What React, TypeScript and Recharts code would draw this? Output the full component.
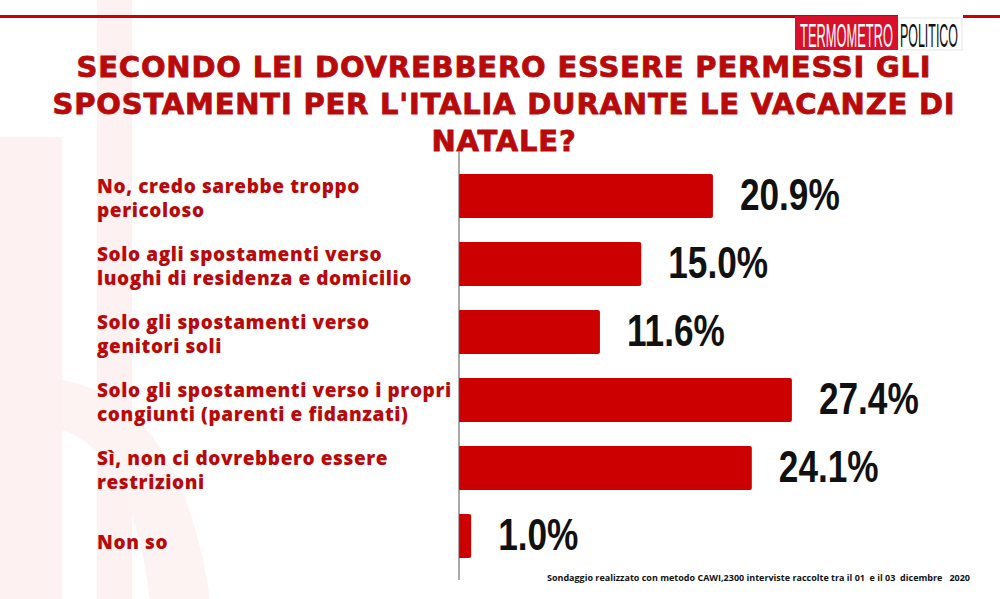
import React from "react";
import { BarChart, Bar, XAxis, YAxis, LabelList } from "recharts";

const categories = [
  "No, credo sarebbe troppo\npericoloso",
  "Solo agli spostamenti verso\nluoghi di residenza e domicilio",
  "Solo gli spostamenti verso\ngenitori soli",
  "Solo gli spostamenti verso i propri\ncongiunti (parenti e fidanzati)",
  "Sì, non ci dovrebbero essere\nrestrizioni",
  "Non so",
];
const values = [20.9, 15.0, 11.6, 27.4, 24.1, 1.0];
const titleLines = [
  "SECONDO LEI DOVREBBERO ESSERE PERMESSI GLI",
  "SPOSTAMENTI PER L'ITALIA DURANTE LE VACANZE DI",
  "NATALE?",
];
const footer =
  "Sondaggio realizzato con metodo CAWI,2300 interviste raccolte tra il 01  e il 03  dicembre   2020";

const data = categories.map((c, i) => ({ name: c, value: values[i] }));

const RED = "#cc0000";
const TEXT_RED = "#b80a0a";
const LABEL_FONT = "'Open Sans', sans-serif";
const TITLE_FONT = "'DejaVu Sans', sans-serif";
const VALUE_FONT = "'Liberation Sans', Arial, sans-serif";

const CategoryTick = (props: any) => {
  const { y, payload } = props;
  const lines = String(payload.value).split("\n");
  const base = lines.length === 1 ? [13] : [-3, 20.5];
  return (
    <g>
      {lines.map((l, i) => (
        <text
          key={i}
          x={97}
          y={y + base[i]}
          textAnchor="start"
          fill={TEXT_RED}
          fontFamily={LABEL_FONT}
          fontWeight={800}
          fontSize={19}
          letterSpacing={0.6}
        >
          {l}
        </text>
      ))}
    </g>
  );
};

const ValueLabel = (props: any) => {
  const { x, y, width, height, value } = props;
  const tx = x + width + 27;
  const ty = y + height / 2 + 14;
  return (
    <text
      transform={`translate(${tx},${ty}) scale(0.8,1)`}
      x={0}
      y={0}
      fill="#111"
      stroke="#ffffff"
      strokeWidth={3}
      paintOrder="stroke"
      fontFamily={VALUE_FONT}
      fontWeight={700}
      fontSize={44}
      textAnchor="start"
    >
      {`${Number(value).toFixed(1)}%`}
    </text>
  );
};

export default function App() {
  return (
    <div
      style={{
        position: "absolute",
        left: 0,
        top: 0,
        width: 1000,
        height: 599,
        background: "#fff",
        overflow: "hidden",
      }}
    >
      <svg width={1000} height={599} style={{ position: "absolute", left: 0, top: 0 }}>
        <rect x={97} y={0} width={35} height={599} fill="#fdf1f1" />
        <rect x={0} y={137} width={62} height={462} fill="#fdf1f1" />
        <path d="M62 380 Q180 400 210 599 L150 599 Q130 450 62 430 Z" fill="#fdf3f3" />
        <rect x={0} y={15} width={898} height={3} fill={RED} />
        <rect x={963} y={15} width={37} height={3} fill={RED} />
        <rect x={898} y={18} width={64} height={32} fill="#fff" stroke="#e6e6e6" strokeWidth={1} />
        <rect x={795} y={16} width={103} height={34} fill="#d8102a" />
        <text
          transform="translate(846.5,47) scale(0.39,1)"
          x={0}
          y={0}
          textAnchor="middle"
          fill="#fff"
          fontFamily={VALUE_FONT}
          fontSize={33}
        >
          TERMOMETRO
        </text>
        <text
          transform="translate(929,47) scale(0.377,1)"
          x={0}
          y={0}
          textAnchor="middle"
          fill="#111"
          fontFamily={VALUE_FONT}
          fontSize={33}
        >
          POLITICO
        </text>
        {titleLines.map((t, i) => (
          <text
            key={i}
            x={504}
            y={77 + i * 37}
            textAnchor="middle"
            fill={TEXT_RED}
            stroke={TEXT_RED}
            strokeWidth={0.8}
            fontFamily={TITLE_FONT}
            fontWeight={700}
            fontSize={29}
            letterSpacing={0.8}
          >
            {t}
          </text>
        ))}
        <text
          x={970}
          y={581}
          textAnchor="end"
          fill="#111"
          fontFamily={LABEL_FONT}
          fontWeight={700}
          fontSize={9}
          style={{ whiteSpace: "pre" }}
        >
          {footer}
        </text>
      </svg>
      <div style={{ position: "absolute", left: 0, top: 0 }}>
        <BarChart
          width={1000}
          height={599}
          data={data}
          layout="vertical"
          margin={{ top: 152, right: 55, bottom: 19, left: 0 }}
          barCategoryGap={12}
        >
          <XAxis type="number" domain={[0, 40]} hide />
          <YAxis
            type="category"
            dataKey="name"
            width={459}
            padding={{ top: 10, bottom: 10 }}
            axisLine={{ stroke: "#555", strokeWidth: 1 }}
            tickLine={false}
            tick={<CategoryTick />}
            interval={0}
          />
          <Bar dataKey="value" fill={RED} barSize={44} radius={[0, 2, 2, 0]} isAnimationActive={false}>
            <LabelList dataKey="value" content={<ValueLabel />} />
          </Bar>
        </BarChart>
      </div>
    </div>
  );
}
